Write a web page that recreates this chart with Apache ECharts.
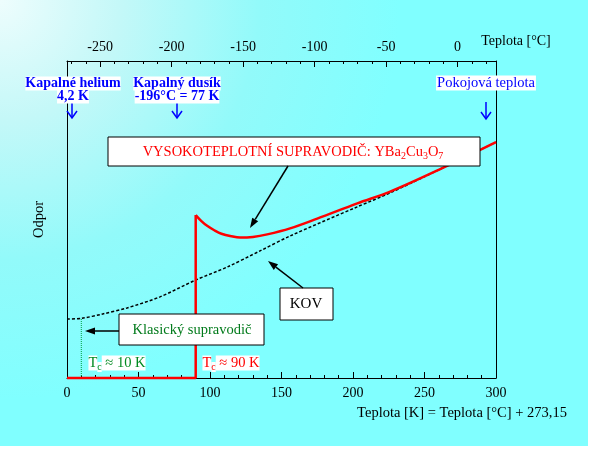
<!DOCTYPE html>
<html><head><meta charset="utf-8">
<script src="https://cdn.jsdelivr.net/npm/echarts@6/dist/echarts.min.js"></script>
<style>html,body{margin:0;padding:0;background:#fff}#c{width:600px;height:454px}</style>
</head><body><div id="c"></div>
<script>
// ---- data ----
const kelvinMin = 0, kelvinMax = 300, kelvinStep = 50;
const celsiusLabels = [-250, -200, -150, -100, -50, 0];
const celsiusMinor = [-270, -260, -250, -240, -230, -220, -210, -200, -190, -180, -170, -160, -150, -140, -130, -120, -110, -100, -90, -80, -70, -60, -50, -40, -30, -20, -10, 0, 10, 20];
const metalT = [0, 10, 25, 42, 65, 90, 112, 135, 156, 203, 226, 261, 300];
const metalR = [18.6, 18.8, 20.2, 22.1, 25.6, 30.9, 35.0, 40.1, 44.8, 54.0, 58.4, 65.9, 74.4];
const ybcoZeroT = [0, 90, 90];
const ybcoZeroR = [0, 0, 51.4];
const ybcoT = [90, 94, 98, 103, 108, 115, 121, 130, 140, 156, 175, 203, 226, 261, 300];
const ybcoR = [51.4, 49.5, 48.0, 46.6, 45.5, 44.7, 44.3, 44.5, 45.3, 47.2, 50.3, 55.1, 58.8, 65.9, 74.4];
const classicT = [10, 10];
const classicR = [0, 18.8];

const zip = (a, b) => a.map((v, i) => [v, b[i]]);
const F = 'Liberation Serif';
const chart = echarts.init(document.getElementById('c'), null, {renderer: 'canvas'});

function arrowFilled(x1, y1, x2, y2, color, len, w) {
  const dx = x2 - x1, dy = y2 - y1, L = Math.hypot(dx, dy);
  const ux = dx / L, uy = dy / L, px = -uy, py = ux;
  const bx = x2 - ux * len, by = y2 - uy * len;
  return [
    {type: 'line', z: 100, shape: {x1, y1, x2: bx, y2: by}, style: {stroke: color, lineWidth: 1.5}},
    {type: 'polygon', z: 100, shape: {points: [[x2, y2], [bx + px * w, by + py * w], [bx - px * w, by - py * w]]}, style: {fill: color}}
  ];
}
function arrowDown(x, y1, y2, color) {
  return [
    {type: 'line', z: 100, shape: {x1: x, y1: y1, x2: x, y2: y2}, style: {stroke: color, lineWidth: 1.5}},
    {type: 'polyline', z: 100, shape: {points: [[x - 5, y2 - 7], [x, y2], [x + 5, y2 - 7]]}, style: {stroke: color, lineWidth: 1.5, fill: null}}
  ];
}
function box(x, y, w, h) {
  return {type: 'rect', z: 99, shape: {x, y, width: w, height: h}, style: {fill: '#fff', stroke: '#000', lineWidth: 1}};
}
function txt(x, y, text, extra) {
  return Object.assign({type: 'text', z: 101, x, y, style: Object.assign({text, fontFamily: F, fontSize: 14.5, fill: '#000', align: 'center', verticalAlign: 'middle'}, extra || {})});
}
const subRich = (color) => ({
  m: {fontFamily: F, fontSize: 14.5, fill: color, lineHeight: 18, backgroundColor: '#fff'},
  s: {fontFamily: F, fontSize: 10, fill: color, lineHeight: 10, verticalAlign: 'bottom', backgroundColor: '#fff'}
});
const blueRich = {b: {fontFamily: F, fontWeight: 'bold', fontSize: 14, fill: '#0000ff', backgroundColor: '#fff', lineHeight: 13, align: 'center'}};

const graphics = [
  {type: 'rect', z: -10, silent: true, shape: {x: 0, y: 0, width: 588, height: 446},
   style: {fill: new echarts.graphic.RadialGradient(0, 0, 400, [
     {offset: 0, color: '#eefdfd'}, {offset: 0.3, color: '#c4f8f8'}, {offset: 0.65, color: '#92fafa'}, {offset: 1, color: '#80ffff'}], true)}},
  txt(516, 41, 'Teplota [°C]', {fontSize: 14}),
  txt(462, 413, 'Teplota [K] = Teplota [°C] + 273,15'),
  // blue labels
  {type: 'text', z: 101, x: 73, y: 77, style: {text: '{b|Kapalné helium}\n{b|4,2 K}', align: 'center', verticalAlign: 'top', rich: blueRich}},
  {type: 'text', z: 101, x: 177, y: 77, style: {text: '{b|Kapalný dusík}\n{b|-196°C = 77 K}', align: 'center', verticalAlign: 'top', rich: blueRich}},
  {type: 'text', z: 101, x: 486, y: 83, style: {text: 'Pokojová teplota', fontFamily: F, fontSize: 14.5, fill: '#0000ff', backgroundColor: '#fff', align: 'center', verticalAlign: 'middle', padding: [0, 1, 0, 1]}},
  ...arrowDown(72, 101, 118, '#0000ff'),
  ...arrowDown(177, 102, 118, '#0000ff'),
  ...arrowDown(486, 102, 119, '#0000ff'),
  // boxes
  box(108, 137, 372, 29),
  {type: 'text', z: 101, x: 293, y: 152, style: {text: '{m|VYSOKOTEPLOTNÍ SUPRAVODIČ: YBa}{s|2}{m|Cu}{s|3}{m|O}{s|7}', align: 'center', verticalAlign: 'middle', rich: subRich('#ff0000')}},
  ...arrowFilled(288, 166, 250, 228, '#000', 10, 3.5),
  box(280, 288, 53, 32),
  txt(306, 304, 'KOV', {fontSize: 15}),
  ...arrowFilled(303, 288, 268, 261, '#000', 10, 3.5),
  box(119, 314, 145, 31),
  txt(192, 330, 'Klasický supravodič', {fill: '#007a1a'}),
  ...arrowFilled(119, 331, 85, 331, '#000', 10, 3.5),
  {type: 'text', z: 101, x: 117, y: 363, style: {text: '{m|T}{s|c}{m| ≈ 10 K}', align: 'center', verticalAlign: 'middle', rich: subRich('#008a20')}},
  {type: 'text', z: 101, x: 231, y: 363, style: {text: '{m|T}{s|c}{m| ≈ 90 K}', align: 'center', verticalAlign: 'middle', rich: subRich('#ff0000')}}
];

const axisLbl = {color: '#000', fontFamily: F, fontSize: 14};
chart.setOption({
  backgroundColor: '#ffffff',
  animation: false,
  grid: {left: 67, top: 61, width: 429, height: 317, containLabel: false},
  xAxis: [
    {type: 'value', position: 'bottom', min: kelvinMin, max: kelvinMax, interval: kelvinStep,
     axisLine: {show: true, onZero: false, lineStyle: {color: '#000', width: 1}},
     axisTick: {show: true, inside: true, length: 6, lineStyle: {color: '#000'}},
     minorTick: {show: true, splitNumber: 5, length: 3, lineStyle: {color: '#000'}},
     axisLabel: Object.assign({margin: 8}, axisLbl), splitLine: {show: false}},
    {type: 'value', position: 'top', min: kelvinMin - 273.15, max: kelvinMax - 273.15,
     axisLine: {show: true, onZero: false, lineStyle: {color: '#000', width: 1}},
     axisTick: {show: true, inside: true, length: 3, customValues: celsiusMinor, lineStyle: {color: '#000'}},
     axisLabel: Object.assign({margin: 7, customValues: celsiusLabels}, axisLbl), splitLine: {show: false}},
    {type: 'value', position: 'top', min: kelvinMin - 273.15, max: kelvinMax - 273.15,
     axisLine: {show: false, onZero: false},
     axisTick: {show: true, inside: true, length: 6, customValues: celsiusLabels, lineStyle: {color: '#000'}},
     axisLabel: {show: false}, splitLine: {show: false}}
  ],
  yAxis: [
    {type: 'value', min: 0, max: 100, name: 'Odpor', nameLocation: 'middle', nameGap: 20, nameRotate: 90,
     nameTextStyle: {color: '#000', fontFamily: F, fontSize: 14.5},
     axisLine: {show: true, onZero: false, lineStyle: {color: '#000'}}, axisTick: {show: false}, axisLabel: {show: false}, splitLine: {show: false}},
    {type: 'value', min: 0, max: 100, position: 'right',
     axisLine: {show: true, onZero: false, lineStyle: {color: '#000'}}, axisTick: {show: false}, axisLabel: {show: false}, splitLine: {show: false}}
  ],
  series: [
    {type: 'line', name: 'Klasický', data: zip(classicT, classicR), symbol: 'none', lineStyle: {color: '#00a040', width: 1, type: 'dotted'}, z: 2},
    {type: 'line', name: 'Kov', data: zip(metalT, metalR), symbol: 'none', smooth: 0.3, lineStyle: {color: '#000', width: 1.5, type: [3, 2]}, z: 3},
    {type: 'line', name: 'YBCO0', data: zip(ybcoZeroT, ybcoZeroR), symbol: 'none', clip: false, lineStyle: {color: '#ff0000', width: 2.5}, z: 4},
    {type: 'line', name: 'YBCO', data: zip(ybcoT, ybcoR), symbol: 'none', smooth: 0.35, lineStyle: {color: '#ff0000', width: 2.5}, z: 4}
  ],
  graphic: graphics
});
</script></body></html>
